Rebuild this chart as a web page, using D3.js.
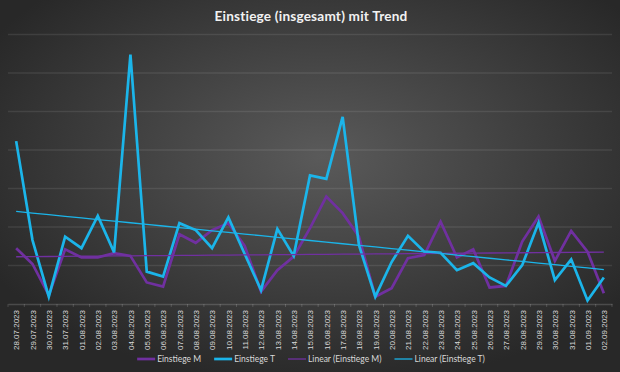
<!DOCTYPE html>
<html>
<head>
<meta charset="utf-8">
<script src="https://cdn.jsdelivr.net/npm/d3@7/dist/d3.min.js"></script>
<style>
  body { margin: 0; background: #2b2b2b; }
  svg { display: block; }
</style>
</head>
<body>
<div id="chart"></div>
<script>
// ---- Daten ----
const tage = ["28.07.2023", "29.07.2023", "30.07.2023", "31.07.2023", "01.08.2023", "02.08.2023",
  "03.08.2023", "04.08.2023", "05.08.2023", "06.08.2023", "07.08.2023", "08.08.2023", "09.08.2023",
  "10.08.2023", "11.08.2023", "12.08.2023", "13.08.2023", "14.08.2023", "15.08.2023", "16.08.2023",
  "17.08.2023", "18.08.2023", "19.08.2023", "20.08.2023", "21.08.2023", "22.08.2023", "23.08.2023",
  "24.08.2023", "25.08.2023", "26.08.2023", "27.08.2023", "28.08.2023", "29.08.2023", "30.08.2023",
  "31.08.2023", "01.09.2023", "02.09.2023"];

const einstiegeM = [14.5, 10.4, 2.3, 14.2, 12.1, 12.1, 13.2, 12.5, 5.6, 4.5, 18.1, 15.9, 19.2,
  21.0, 15.1, 3.2, 8.8, 12.3, 19.7, 27.9, 23.6, 17.5, 1.9, 4.1, 11.9, 12.7, 21.4, 12.1, 14.2,
  4.3, 4.7, 16.2, 22.7, 11.2, 19.0, 13.6, 2.8];

const einstiegeT = [42.3, 16.6, 1.9, 17.5, 14.5, 22.9, 13.4, 64.8, 8.4, 7.1, 21.0, 19.2, 14.5,
  22.5, 13.0, 3.6, 19.5, 12.5, 33.4, 32.5, 48.6, 15.3, 1.9, 10.9, 17.7, 13.6, 13.3, 8.8, 10.6,
  6.9, 4.7, 10.1, 21.1, 6.2, 11.6, 0.9, 6.9];

const serien = ["Einstiege M", "Einstiege T", "Linear (Einstiege M)", "Linear (Einstiege T)"];
const farben = ["#7030a0", "#1bb5ea", "#7030a0", "#1bb5ea"];
const gitter = [0, 10, 20, 30, 40, 50, 60, 70];

// ---- Maße ----
const width = 620, height = 372;
const plot = { left: 8, right: 612, top: 34.5, bottom: 304 };

const svg = d3.select("#chart").append("svg")
  .attr("width", width)
  .attr("height", height)
  .style("font-family", "Lato, 'Open Sans', sans-serif");

// Hintergrund (radialer Verlauf wie im Excel-Stil)
const defs = svg.append("defs");
const bg = defs.append("radialGradient")
  .attr("id", "bg")
  .attr("cx", "52%").attr("cy", "42%").attr("r", "62%");
bg.append("stop").attr("offset", "0%").attr("stop-color", "#5a5a5a");
bg.append("stop").attr("offset", "100%").attr("stop-color", "#282828");

svg.append("rect")
  .attr("width", width).attr("height", height)
  .attr("fill", "url(#bg)");

// Skalen
const x = d3.scalePoint()
  .domain(tage)
  .range([plot.left, plot.right])
  .padding(0.5);

const y = d3.scaleLinear()
  .domain([0, 70])
  .range([plot.bottom, plot.top]);

// Gitterlinien
svg.append("g")
  .selectAll("line")
  .data(gitter.slice(1))
  .enter()
  .append("line")
  .attr("x1", plot.left).attr("x2", plot.right)
  .attr("y1", d => y(d)).attr("y2", d => y(d))
  .attr("stroke", "rgba(255,255,255,0.09)")
  .attr("stroke-width", 1.3);

// x-Achse
const xAxis = d3.axisBottom(x).tickSize(0).tickPadding(0);
const gx = svg.append("g")
  .attr("transform", `translate(0,${plot.bottom})`)
  .call(xAxis);
gx.select(".domain")
  .attr("stroke", "rgba(255,255,255,0.16)")
  .attr("stroke-width", 1.3);
gx.selectAll("text")
  .attr("fill", "#d9d9d9")
  .style("font-size", "8px")
  .attr("transform", "rotate(-90)")
  .attr("text-anchor", "end")
  .attr("x", -6)
  .attr("y", 0)
  .attr("dy", "0.35em");

// kleine Teilstriche zwischen den Kategorien
const step = x.step();
gx.append("g")
  .selectAll("line")
  .data(tage.concat(["ende"]))
  .enter()
  .append("line")
  .attr("x1", (d, i) => plot.left + i * step)
  .attr("x2", (d, i) => plot.left + i * step)
  .attr("y1", 0).attr("y2", 3)
  .attr("stroke", "rgba(255,255,255,0.16)");

// Linien
const linie = d3.line()
  .x((d, i) => x(tage[i]))
  .y(d => y(d));

// lineare Trends (kleinste Quadrate)
function trend(werte) {
  const mx = d3.mean(werte, (d, i) => i);
  const my = d3.mean(werte);
  let sxy = 0, sxx = 0;
  werte.forEach((v, i) => { sxy += (i - mx) * (v - my); sxx += (i - mx) * (i - mx); });
  const b = sxy / sxx, a = my - b * mx;
  return werte.map((v, i) => a + b * i);
}

const linien = svg.append("g").attr("fill", "none");

linien.append("path")
  .datum(einstiegeM)
  .attr("d", linie)
  .attr("stroke", farben[0])
  .attr("stroke-width", 2.7)
  .attr("stroke-linejoin", "miter");

linien.append("path")
  .datum(einstiegeT)
  .attr("d", linie)
  .attr("stroke", farben[1])
  .attr("stroke-width", 2.7)
  .attr("stroke-linejoin", "miter");

linien.append("path")
  .datum(trend(einstiegeM))
  .attr("d", linie)
  .attr("stroke", farben[2])
  .attr("stroke-width", 1.3);

linien.append("path")
  .datum(trend(einstiegeT))
  .attr("d", linie)
  .attr("stroke", farben[3])
  .attr("stroke-width", 1.3);

// Titel
svg.append("text")
  .attr("x", 311)
  .attr("y", 21)
  .attr("text-anchor", "middle")
  .attr("fill", "#f2f2f2")
  .style("font-size", "13.6px")
  .style("font-weight", "bold")
  .style("letter-spacing", "0.2px")
  .text("Einstiege (insgesamt) mit Trend");

// Legende
const legende = svg.append("g").attr("transform", "translate(0,359)");
const items = legende.selectAll("g")
  .data(serien)
  .enter()
  .append("g");

items.append("line")
  .attr("x1", 0).attr("x2", 18)
  .attr("y1", 0).attr("y2", 0)
  .attr("stroke", (d, i) => farben[i])
  .attr("stroke-width", (d, i) => i < 2 ? 2.7 : 1.3);

items.append("text")
  .attr("x", 20)
  .attr("dy", "0.35em")
  .attr("fill", "#d9d9d9")
  .style("font-size", "8.5px")
  .text(d => d);

let pos = 0;
const breiten = [];
items.each(function () {
  const w = 20 + this.querySelector("text").getComputedTextLength();
  breiten.push(pos);
  pos += w + 13;
});
const start = 311 - (pos - 13) / 2;
items.attr("transform", (d, i) => `translate(${start + breiten[i]},0)`);
</script>
</body>
</html>
